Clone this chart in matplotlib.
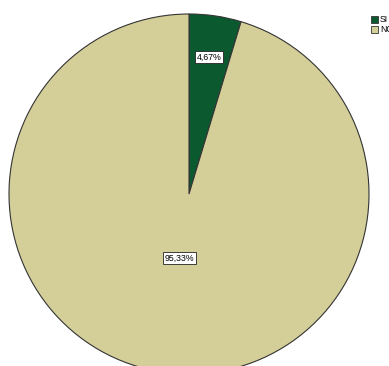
import numpy as np
import matplotlib.pyplot as plt
from matplotlib.patches import Rectangle

categories = ["SI", "NO"]
values = [4.67, 95.33]
pct_labels = ["4,67%", "95,33%"]
colors = ["#0b5a2f", "#d4cf99"]

W, H = 389, 366
fig = plt.figure(figsize=(W / 100, H / 100), dpi=100)
ax = fig.add_axes([0, 0, 1, 1])

cx, cy, r = 189, H - 194, 180
wedges, _ = ax.pie(values, colors=colors, startangle=90, counterclock=False,
                   center=(cx, cy), radius=r,
                   wedgeprops=dict(edgecolor="#333333", linewidth=0.8))

# pie() resets the view, so fix the pixel frame afterwards
ax.set_xlim(0, W)
ax.set_ylim(0, H)
ax.set_aspect("equal")
ax.axis("off")

# label distance as a fraction of radius, per slice
dists = [0.77, 0.36]
for w, lab, d in zip(wedges, pct_labels, dists):
    ang = np.deg2rad((w.theta1 + w.theta2) / 2)
    x = cx + d * r * np.cos(ang)
    y = cy + d * r * np.sin(ang)
    ax.text(x, y, lab, ha="center", va="center", fontsize=6.3,
            family="Liberation Sans",
            bbox=dict(boxstyle="square,pad=0.2", fc="white", ec="#222222", lw=0.6))

# legend (clipped on the right like the original)
for i, (cat, col) in enumerate(zip(categories, colors)):
    ytop = H - 16 - i * 10
    ax.add_patch(Rectangle((371, ytop - 7), 7, 7, fc=col, ec="#333333", lw=0.6,
                           clip_on=False))
    ax.text(380, ytop - 3.5, cat, ha="left", va="center", fontsize=6.3,
            family="Liberation Sans")

fig.savefig("out.png", dpi=100)
